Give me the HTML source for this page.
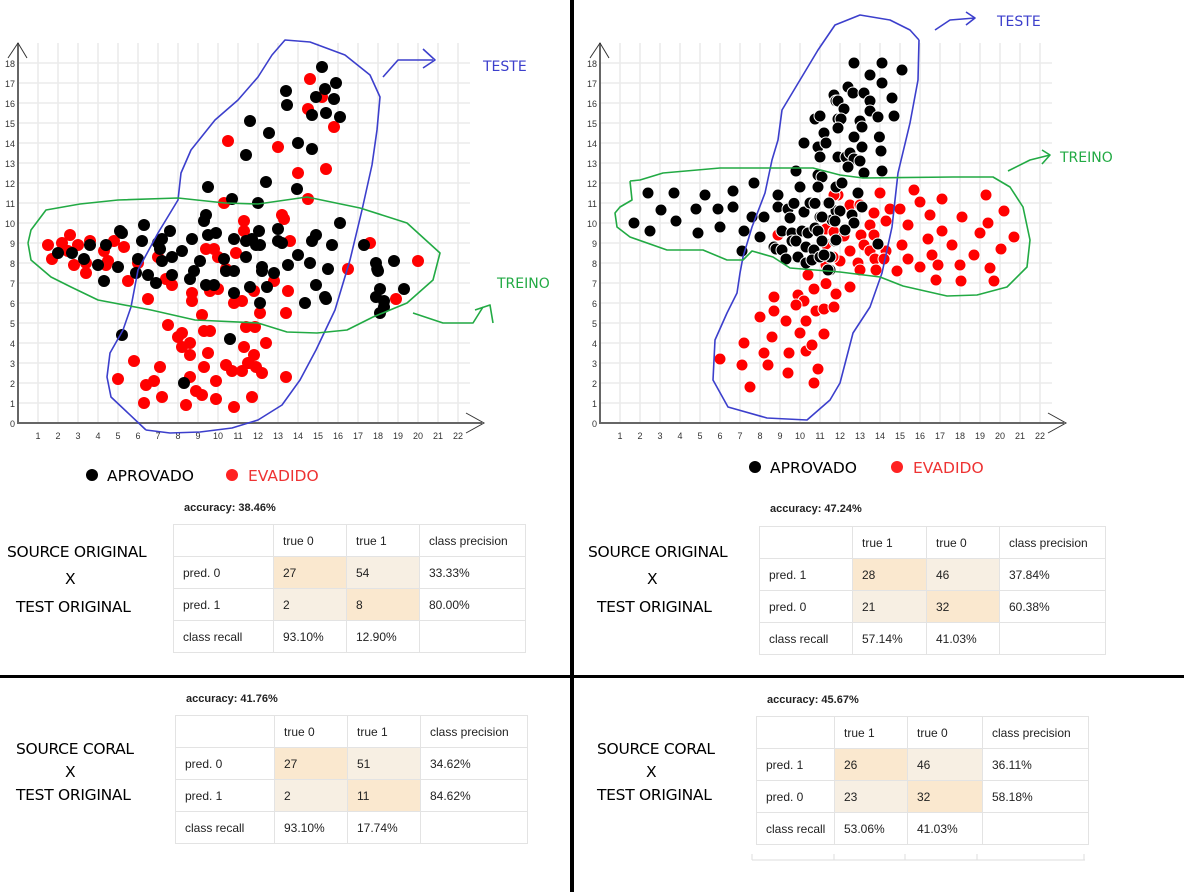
<!DOCTYPE html>
<html><head><meta charset="utf-8">
<style>
html,body{margin:0;padding:0;background:#fff;}
body{width:1184px;height:892px;position:relative;overflow:hidden;font-family:"Liberation Sans",Arial,sans-serif;}
svg{position:absolute;left:0;top:0;}
.lbl{position:absolute;font-family:"DejaVu Sans","Liberation Sans",sans-serif;font-size:15.5px;color:#000;white-space:nowrap;letter-spacing:-0.3px}
.acc{position:absolute;font-size:11px;font-weight:bold;color:#222;}
table.cm{position:absolute;border-collapse:collapse;font-size:12px;color:#222;}
table.cm td{border:1px solid #e3e3e3;padding:0 0 0 9px;height:32px;box-sizing:border-box;}
.d{background:#fae8cf;} .l{background:#f7efe3;}
</style></head>
<body>
<svg id="chart" width="1184" height="892"></svg>

<div class="lbl" style="left:7px;top:543px">SOURCE ORIGINAL</div>
<div class="lbl" style="left:65px;top:570px">X</div>
<div class="lbl" style="left:16px;top:598px">TEST ORIGINAL</div>
<div class="lbl" style="left:588px;top:543px">SOURCE ORIGINAL</div>
<div class="lbl" style="left:647px;top:570px">X</div>
<div class="lbl" style="left:597px;top:598px">TEST ORIGINAL</div>
<div class="lbl" style="left:16px;top:740px">SOURCE CORAL</div>
<div class="lbl" style="left:65px;top:763px">X</div>
<div class="lbl" style="left:16px;top:786px">TEST ORIGINAL</div>
<div class="lbl" style="left:597px;top:740px">SOURCE CORAL</div>
<div class="lbl" style="left:646px;top:763px">X</div>
<div class="lbl" style="left:597px;top:786px">TEST ORIGINAL</div>

<div class="acc" style="left:184px;top:502px">accuracy: 38.46%</div>
<table class="cm" style="left:173px;top:524px;width:353px">
<tr><td style="width:100px"></td><td style="width:73px">true 0</td><td style="width:73px">true 1</td><td>class precision</td></tr>
<tr><td>pred. 0</td><td class="d">27</td><td class="l">54</td><td>33.33%</td></tr>
<tr><td>pred. 1</td><td class="l">2</td><td class="d">8</td><td>80.00%</td></tr>
<tr><td>class recall</td><td>93.10%</td><td>12.90%</td><td></td></tr>
</table>

<div class="acc" style="left:770px;top:503px">accuracy: 47.24%</div>
<table class="cm" style="left:759px;top:526px;width:347px">
<tr><td style="width:93px"></td><td style="width:74px">true 1</td><td style="width:73px">true 0</td><td>class precision</td></tr>
<tr><td>pred. 1</td><td class="d">28</td><td class="l">46</td><td>37.84%</td></tr>
<tr><td>pred. 0</td><td class="l">21</td><td class="d">32</td><td>60.38%</td></tr>
<tr><td>class recall</td><td>57.14%</td><td>41.03%</td><td></td></tr>
</table>

<div class="acc" style="left:186px;top:693px">accuracy: 41.76%</div>
<table class="cm" style="left:175px;top:715px;width:353px">
<tr><td style="width:99px"></td><td style="width:73px">true 0</td><td style="width:73px">true 1</td><td>class precision</td></tr>
<tr><td>pred. 0</td><td class="d">27</td><td class="l">51</td><td>34.62%</td></tr>
<tr><td>pred. 1</td><td class="l">2</td><td class="d">11</td><td>84.62%</td></tr>
<tr><td>class recall</td><td>93.10%</td><td>17.74%</td><td></td></tr>
</table>

<div class="acc" style="left:767px;top:694px">accuracy: 45.67%</div>
<table class="cm" style="left:756px;top:716px;width:333px">
<tr><td style="width:78px"></td><td style="width:73px">true 1</td><td style="width:75px">true 0</td><td>class precision</td></tr>
<tr><td>pred. 1</td><td class="d">26</td><td class="l">46</td><td>36.11%</td></tr>
<tr><td>pred. 0</td><td class="l">23</td><td class="d">32</td><td>58.18%</td></tr>
<tr><td>class recall</td><td>53.06%</td><td>41.03%</td><td></td></tr>
</table>

<script>
const xTicks=[1,2,3,4,5,6,7,8,9,10,11,12,13,14,15,16,17,18,19,20,21,22];
const yTicks=[0,1,2,3,4,5,6,7,8,9,10,11,12,13,14,15,16,17,18];
const leftAprovado=[[11.6,15.1],[11.4,13.4],[9.5,11.8],[10.7,11.2],[9.4,10.4],[9.3,10.1],[6.3,9.9],[5.1,9.6],[5.2,9.5],[7.6,9.6],[9.5,9.4],[9.9,9.5],[6.2,9.1],[7.2,9.2],[7.0,9.0],[7.1,8.7],[8.7,9.2],[10.8,9.2],[11.4,9.1],[11.7,9.2],[11.9,8.9],[4.4,8.9],[3.6,8.9],[8.2,8.6],[2.0,8.5],[2.7,8.5],[7.7,8.3],[7.2,8.1],[3.3,8.2],[9.1,8.1],[10.3,8.2],[11.4,8.3],[6.0,8.2],[4.0,7.9],[5.0,7.8],[8.8,7.6],[8.6,7.2],[10.4,7.6],[10.8,7.6],[5.9,7.5],[6.5,7.4],[7.7,7.4],[6.9,7.0],[4.3,7.1],[9.4,6.9],[9.8,6.9],[11.6,6.8],[10.8,6.5],[5.2,4.4],[10.6,4.2],[8.3,2.0],
[15.2,17.8],[15.9,17.0],[13.4,16.6],[15.35,16.7],[14.9,16.3],[15.8,16.2],[13.45,15.9],[14.7,15.4],[15.4,15.5],[16.1,15.3],[12.55,14.5],[14.0,14.0],[14.7,13.7],[12.4,12.05],[13.95,11.7],[12.0,11.0],[16.1,10.0],[13.0,9.7],[12.05,9.6],[14.9,9.4],[14.7,9.1],[12.1,8.9],[13.0,9.1],[13.2,9.0],[15.7,8.9],[17.3,8.9],[14.0,8.4],[13.5,7.9],[14.6,8.0],[12.2,7.8],[12.2,7.6],[12.8,7.5],[15.5,7.7],[17.9,8.0],[17.96,7.7],[18.0,7.6],[18.8,8.1],[12.45,6.8],[14.9,6.9],[18.1,6.7],[19.3,6.7],[15.35,6.3],[15.4,6.2],[12.1,6.0],[14.35,6.0],[17.9,6.3],[18.3,6.1],[18.3,5.8],[18.1,5.5]];
const leftEvadido=[[10.5,14.1],[10.3,11.0],[11.3,10.1],[11.3,9.6],[2.6,9.4],[1.5,8.9],[2.2,9.0],[3.0,8.9],[3.6,9.1],[4.8,9.1],[5.3,8.8],[4.3,8.6],[2.5,8.6],[1.7,8.2],[2.8,7.9],[3.4,8.0],[3.4,7.5],[4.5,8.1],[4.4,7.9],[6.0,8.0],[7.0,8.3],[9.4,8.7],[9.8,8.7],[10.0,8.3],[10.9,8.5],[10.4,7.7],[5.5,7.1],[7.4,7.2],[7.7,6.9],[8.7,6.5],[8.7,6.1],[9.6,6.6],[10.0,6.7],[6.5,6.2],[10.8,6.0],[11.2,6.1],[9.2,5.4],[7.5,4.9],[8.0,4.3],[8.2,4.5],[8.6,4.0],[8.2,3.8],[8.6,3.4],[9.3,4.6],[9.6,4.6],[11.4,4.8],[11.3,3.8],[9.5,3.5],[5.8,3.1],[7.1,2.8],[9.3,2.8],[10.4,2.9],[10.7,2.6],[11.2,2.6],[11.5,3.0],[11.8,3.4],[5.0,2.2],[6.4,1.9],[6.8,2.1],[8.6,2.3],[8.9,1.6],[9.2,1.4],[9.9,2.1],[6.3,1.0],[7.2,1.3],[8.4,0.9],[9.9,1.2],[10.8,0.8],[11.7,1.3],
[14.6,17.2],[15.2,16.3],[14.5,15.7],[15.8,14.8],[13.0,13.8],[14.0,12.5],[15.4,12.7],[14.5,11.2],[13.2,10.4],[13.3,10.2],[13.6,9.1],[17.6,9.0],[20.0,8.1],[16.5,7.7],[12.8,7.1],[11.8,6.6],[13.5,6.6],[12.1,5.5],[13.4,5.5],[18.9,6.2],[11.85,4.8],[12.4,4.0],[11.55,3.0],[11.9,2.8],[12.2,2.5],[13.4,2.3]];
const rightAprovado=[[11.7,16.4],[11.8,16.1],[10.75,15.2],[11.0,15.35],[11.9,15.2],[11.2,14.5],[10.2,14.0],[10.9,13.8],[11.3,14.0],[11.0,13.3],[11.9,13.3],[9.8,12.6],[10.9,12.4],[11.1,12.3],[10.0,11.8],[10.9,11.8],[11.8,11.8],[7.7,12.0],[2.4,11.5],[3.7,11.5],[5.25,11.4],[6.65,11.6],[3.05,10.65],[4.8,10.7],[5.9,10.7],[6.65,10.8],[8.9,11.4],[8.9,10.8],[1.7,10.0],[3.8,10.1],[2.5,9.6],[4.9,9.5],[6.0,9.8],[7.6,10.3],[8.2,10.3],[7.2,9.6],[8.0,9.3],[7.1,8.6],[9.1,9.6],[8.7,8.8],[8.8,8.7],[9.1,8.65],[9.3,8.2],[9.9,8.3],[9.4,10.7],[9.5,10.25],[9.7,10.98],[10.2,10.55],[10.5,11.0],[10.75,10.98],[11.0,10.3],[11.4,11.0],[11.6,10.15],[11.8,10.6],[9.6,9.5],[10.1,9.6],[10.4,9.5],[10.75,9.75],[10.9,9.6],[9.6,9.1],[9.8,9.1],[10.3,8.8],[10.7,8.65],[11.1,9.1],[11.75,9.1],[10.3,8.0],[10.6,8.15],[11.0,8.3],[11.5,8.3],[11.5,7.65],
[12.7,18.0],[14.1,18.0],[15.1,17.65],[13.5,17.4],[14.1,17.0],[12.4,16.8],[12.65,16.5],[13.2,16.5],[11.9,16.1],[13.5,16.1],[14.6,16.25],[12.2,15.7],[13.5,15.6],[13.9,15.3],[14.7,15.35],[12.05,15.2],[13.0,15.1],[13.1,14.8],[11.9,14.75],[12.7,14.3],[13.97,14.3],[13.1,13.8],[14.05,13.6],[11.9,13.3],[12.3,13.3],[12.5,13.5],[12.7,13.2],[13.0,13.1],[12.4,12.8],[13.2,12.5],[14.1,12.6],[11.8,11.8],[12.1,12.0],[12.9,11.5],[11.45,11.0],[12.0,10.6],[12.6,10.4],[13.1,10.8],[12.7,10.0],[11.75,10.1],[11.1,10.3],[11.8,9.15],[13.9,8.95],[11.2,8.4],[11.4,7.65],[12.25,9.65]];
const rightEvadido=[[11.9,11.4],[8.9,9.4],[11.3,9.7],[11.7,9.5],[11.3,8.95],[11.7,8.3],[11.3,7.9],[10.4,7.4],[10.7,6.7],[11.3,6.97],[11.8,6.5],[8.7,6.3],[9.9,6.4],[10.2,6.1],[9.8,5.9],[8.7,5.6],[8.0,5.3],[9.3,5.1],[10.8,5.6],[11.2,5.7],[11.7,5.8],[10.3,5.1],[8.6,4.3],[10.0,4.5],[11.2,4.45],[7.2,4.0],[8.2,3.5],[9.45,3.5],[10.3,3.6],[10.6,3.9],[6.0,3.2],[7.1,2.9],[8.4,2.9],[9.4,2.5],[10.9,2.7],[10.7,2.0],[7.5,1.8],
[14.0,11.5],[15.7,11.65],[16.0,11.05],[17.1,11.2],[19.3,11.4],[11.7,11.4],[12.5,10.9],[13.0,10.9],[14.5,10.7],[15.0,10.7],[13.7,10.5],[14.3,10.1],[13.5,9.9],[15.4,9.9],[16.5,10.4],[18.1,10.3],[20.2,10.6],[19.4,10.0],[17.1,9.6],[19.0,9.5],[20.7,9.3],[13.05,9.4],[13.7,9.4],[11.7,9.55],[12.2,9.35],[15.1,8.9],[16.4,9.2],[17.6,8.9],[13.2,8.9],[13.5,8.6],[12.5,8.6],[14.3,8.6],[20.05,8.7],[18.7,8.4],[16.6,8.4],[12.9,8.0],[13.75,8.2],[14.2,8.2],[15.4,8.2],[16.9,7.9],[18.0,7.9],[16.0,7.8],[19.5,7.75],[12.0,8.1],[11.65,8.3],[13.0,7.65],[13.8,7.65],[14.85,7.6],[16.8,7.15],[18.05,7.1],[19.7,7.1],[12.5,6.8],[11.8,6.45]];

const NS='http://www.w3.org/2000/svg';
const svg=document.getElementById('chart');
function mk(tag,attrs,parent){const e=document.createElementNS(NS,tag);for(const k in attrs)e.setAttribute(k,attrs[k]);(parent||svg).appendChild(e);return e;}

function drawChart(ox,name,aprov,evad,stroke){
  const sx=v=>ox+20*v, sy=v=>423-20*v;
  const g=mk('g',{});
  
  
  const grid=mk('g',{stroke:'#ebebeb','stroke-width':1.6},g);
  
  
  xTicks.forEach(t=>mk('line',{x1:sx(t),x2:sx(t),y1:43,y2:423},grid));
  yTicks.slice(1).forEach(t=>mk('line',{x1:ox,x2:ox+452,y1:sy(t),y2:sy(t)},grid));
  const ax=mk('g',{stroke:'#666','stroke-width':2,fill:'none'},g);
  
  
  mk('line',{x1:ox,y1:43,x2:ox,y2:424},ax);
  mk('line',{x1:ox,y1:423,x2:ox+464,y2:423},ax);
  mk('polyline',{points:`${ox-10},58 ${ox},43 ${ox+9},58`,stroke:'#333','stroke-width':1},ax);
  mk('polyline',{points:`${ox+448},413 ${ox+466},423 ${ox+448},433`,stroke:'#333','stroke-width':1},ax);
  xTicks.forEach(t=>{const e=mk('text',{x:sx(t),y:439,'text-anchor':'middle','font-size':9,fill:'#333','font-family':'Liberation Sans, sans-serif'},g);e.textContent=t;
    
    });
  yTicks.forEach(t=>{const e=mk('text',{x:ox-3,y:sy(t)+4,'text-anchor':'end','font-size':9,fill:'#333','font-family':'Liberation Sans, sans-serif'},g);e.textContent=t;
    
    });
  evad.forEach(p=>{const c=mk('circle',{cx:sx(p[0]),cy:sy(p[1]),r:6,fill:'#f00',stroke:'#fff','stroke-width':stroke},g);
    
    });
  aprov.forEach(p=>{const c=mk('circle',{cx:sx(p[0]),cy:sy(p[1]),r:6,fill:'#000',stroke:'#fff','stroke-width':stroke},g);
    
    });
}
drawChart(18,'left-scatter',leftAprovado,leftEvadido,0);
drawChart(600,'right-scatter',rightAprovado,rightEvadido,1);

function path(pts,color,name){const p=mk('polyline',{points:pts,fill:'none',stroke:color,'stroke-width':1.6,'stroke-linejoin':'round'});
  
  }
const B='#3c3fcc',G='#22aa44';
path('146,430 111,397 107,377 110,353 123,330 131,307 138,270 158,233 178,200 181,173 191,150 215,120 238,100 258,77 272,55 285,40 310,42 345,55 370,75 380,97 377,130 372,165 362,210 350,260 335,310 316,350 300,380 282,405 258,420 232,428 200,432 170,433 146,430',B,'teste-outline-left');
path('383,77 398,60 433,60',B,'teste-arrow-left');
path('423,49 435,60 423,68',B,'teste-arrowhead-left');
path('28,243 31,230 46,210 80,204 118,200 178,198 225,203 258,204 307,197 360,208 407,223 440,253 433,280 407,303 373,317 347,330 317,333 287,332 258,323 195,320 151,310 98,300 71,287 51,277 31,260 28,243',G,'treino-outline-left');
path('413,313 443,323 473,323 483,307',G,'treino-arrow-left');
path('475,310 490,305 493,323',G,'treino-arrowhead-left');
path('919,40 918,80 910,123 898,173 892,227 882,273 870,307 853,333 840,383 830,400 807,420 767,418 728,407 713,380 715,340 727,313 737,293 740,273 743,257 752,227 765,193 772,160 778,140 782,110 800,80 818,50 835,25 860,15 890,20 910,30 919,40',B,'teste-outline-right');
path('935,30 950,20 975,18',B,'teste-arrow-right');
path('966,12 975,18 966,25',B,'teste-arrowhead-right');
path('630,181 632,200 620,207 615,213 617,227 630,237 667,250 703,250 727,260 743,260 752,251 773,257 790,268 840,272 880,277 903,286 947,296 977,295 1007,287 1027,267 1030,240 1023,207 1010,187 993,177 953,177 863,178 840,175 813,168 767,168 720,168 663,173 640,180 630,181',G,'treino-outline-right');
path('1008,171 1030,160 1050,155',G,'treino-arrow-right');
path('1042,150 1050,155 1042,164',G,'treino-arrowhead-right');

function txt(x,y,s,color,size,name){const e=mk('text',{x:x,y:y,fill:color,'font-size':size,'font-family':'DejaVu Sans, Liberation Sans, sans-serif'});e.textContent=s;
  
  }
txt(483,71,'TESTE',B,14,'teste-label-left');
txt(497,288,'TREINO',G,14,'treino-label-left');
txt(997,26,'TESTE',B,14,'teste-label-right');
txt(1060,162,'TREINO',G,14,'treino-label-right');

function legend(x1,x2,y){
  let c=mk('circle',{cx:x1,cy:y,r:6,fill:'#000'});
  
  
  txt(x1+15,y+6,'APROVADO','#000',15.5,'legend-aprovado-label');
  c=mk('circle',{cx:x2,cy:y,r:6,fill:'#f22'});
  
  
  txt(x2+16,y+6,'EVADIDO','#e33',15.5,'legend-evadido-label');
}
legend(92,232,475);
legend(755,897,467);

let d=mk('rect',{x:570,y:0,width:4,height:892,fill:'#000'});


d=mk('rect',{x:0,y:675,width:1184,height:3,fill:'#000'});


const ghost=mk('g',{stroke:'#ddd','stroke-width':1});


mk('line',{x1:752,y1:860,x2:1085,y2:860},ghost);
[752,834,905,977,1084].forEach(x=>mk('line',{x1:x,y1:854,x2:x,y2:860},ghost));
</script>
</body></html>
